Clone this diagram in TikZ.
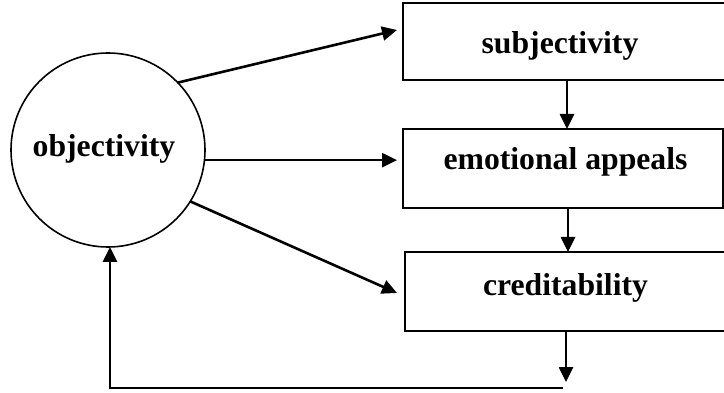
\documentclass[tikz,border=0pt]{standalone}
\usepackage{fontspec}
\setmainfont{Liberation Serif}
\usetikzlibrary{arrows.meta,calc}
\begin{document}
\begin{tikzpicture}[x=1pt,y=-1pt,
  every node/.style={inner sep=0pt,outer sep=0pt},
  blk/.style={draw,line width=1.6pt,rectangle},
  bubble/.style={draw,line width=1.6pt,circle,minimum size=194pt},
  lbl/.style={font=\fontsize{31.7}{38}\selectfont\bfseries,anchor=base},
  link/.style={line width=2.6pt,-{Triangle[length=15pt,width=14pt]}},
  plain/.style={line width=2.6pt}]
\useasboundingbox (0,0) rectangle (724,393);

% concept circle
\node[bubble] (obj) at (108,150) {};
\node[lbl] (objt) at (104,157) {objectivity};

% boxes (right edges run off the page)
\node[blk,minimum width=323pt,minimum height=77pt] (sub) at (564.5,41.5) {};
\node[lbl] (subt) at (560,54) {subjectivity};
\node[blk,minimum width=320pt,minimum height=79pt] (emo) at (563,168.5) {};
\node[lbl] (emot) at (565.5,170) {emotional appeals};
\node[blk,minimum width=321pt,minimum height=79pt] (cred) at (565.5,291.5) {};
\node[lbl] (credt) at (565.5,296) {creditability};

% from the circle to the boxes
\draw[link] (obj.44) -- ($(sub.west)+(-6,-11.5)$);
\coordinate (m0) at (obj.-6.5);
\coordinate (m1) at (m0 -| emo.west);
\draw[link] (m0) -- ($(m1)+(-6,0)$);
\draw[link] (obj.-32) -- ($(cred.west)+(-8,1.5)$);

% down the chain
\coordinate (c1) at ($(sub.south)+(2.5,0)$);
\draw[link] (c1) -- (c1 |- emo.north);
\coordinate (c2) at ($(emo.south)+(5,0)$);
\draw[link] (c2) -- (c2 |- cred.north);
\coordinate (c3) at ($(cred.south)+(0.5,0)$);
\coordinate (drop) at ($(c3)+(0,51)$);
\draw[link] (c3) -- (drop);

% feedback to the circle
\coordinate (fbR) at ($(drop)+(-3,6)$);
\coordinate (up) at ($(obj.south)+(2,0)$);
\coordinate (fbL) at (fbR -| up);
\draw[plain] (fbR) -- (fbL);
\draw[link] ($(fbL)+(0,1.3)$) -- (up);
\end{tikzpicture}
\end{document}
